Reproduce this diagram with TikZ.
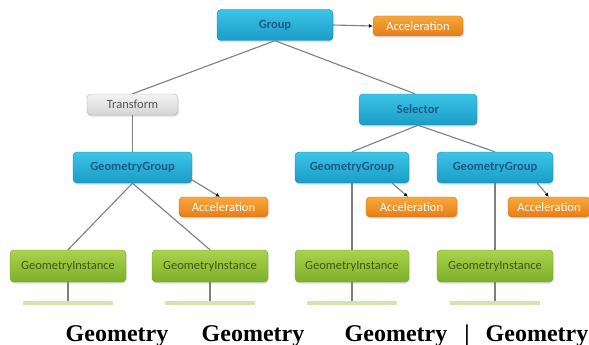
\documentclass[tikz,border=0pt]{standalone}
\usepackage{fontspec}
\setmainfont{Liberation Serif}
\newfontfamily\boxfont{Carlito}
\usetikzlibrary{shadows,arrows.meta,calc}
\definecolor{blueT}{HTML}{3CC4E8}
\definecolor{blueB}{HTML}{1A9CC6}
\definecolor{blueD}{HTML}{1789AE}
\definecolor{blueTxt}{HTML}{1F5A86}
\definecolor{orT}{HTML}{F8A83A}
\definecolor{orB}{HTML}{E57E18}
\definecolor{orD}{HTML}{D07014}
\definecolor{grT}{HTML}{AAD24E}
\definecolor{grB}{HTML}{7DB02A}
\definecolor{grD}{HTML}{6E9C24}
\definecolor{grTxt}{HTML}{3E5A14}
\definecolor{gyT}{HTML}{F4F4F4}
\definecolor{gyB}{HTML}{D4D4D4}
\definecolor{gyD}{HTML}{ABABAB}
\definecolor{gyTxt}{HTML}{555555}
\definecolor{lineGray}{HTML}{7F7F7F}
\definecolor{stripGreen}{HTML}{D3E4AE}
\tikzset{
  box/.style={rounded corners=4pt, inner sep=0pt,
    font=\boxfont\fontsize{12.5}{14}\selectfont,
    drop shadow={opacity=0.25, shadow xshift=0.6pt, shadow yshift=-1.6pt}},
  bluebox/.style={box, top color=blueT, bottom color=blueB, draw=blueD,
    text=blueTxt, font=\boxfont\bfseries\fontsize{12.5}{14}\selectfont,
    minimum width=116pt, minimum height=31pt},
  accbox/.style={box, top color=orT, bottom color=orB, draw=orD, text=white,
    minimum width=89pt, minimum height=20pt},
  instbox/.style={box, top color=grT, bottom color=grB, draw=grD, text=grTxt,
    minimum width=116pt, minimum height=32pt},
  graybox/.style={box, top color=gyT, bottom color=gyB, draw=gyD, text=gyTxt,
    minimum width=91pt, minimum height=21pt},
  strip/.style={fill=stripGreen, draw=none, inner sep=0pt,
    minimum width=90pt, minimum height=4pt},
  conn/.style={draw=lineGray, line width=1.1pt},
  accarrow/.style={conn, -{Latex[length=4pt,width=4pt,fill=black,color=black]}},
  geomlabel/.style={font=\bfseries\fontsize{24}{24}\selectfont, anchor=base, inner sep=0pt}
}
\begin{document}
\begin{tikzpicture}[x=1pt,y=-1pt]
\useasboundingbox[fill=white] (0,0) rectangle (589,345);

% nodes
\node[bluebox] (group) at (275,25) {Group};
\node[accbox, minimum width=90pt] (acc0) at (418,26) {Acceleration};
\node[graybox] (transform) at (132.5,104.5) {Transform};
\node[bluebox, minimum width=118pt] (selector) at (418,109.5) {Selector};
\node[bluebox, minimum width=119pt] (gg1) at (132.5,167.5) {GeometryGroup};
\node[bluebox, minimum width=114pt] (gg2) at (352,167.5) {GeometryGroup};
\node[bluebox, minimum width=116pt] (gg3) at (495,167.5) {GeometryGroup};
\node[accbox] (acc1) at (223.5,207) {Acceleration};
\node[accbox, minimum width=91pt] (acc2) at (411.5,207) {Acceleration};
\node[accbox, minimum width=82pt] (acc3) at (549,207) {Acceleration};
\node[instbox] (gi1) at (68,266) {GeometryInstance};
\node[instbox] (gi2) at (210,266) {GeometryInstance};
\node[instbox, minimum width=114pt] (gi3) at (352,266) {GeometryInstance};
\node[instbox] (gi4) at (495,266) {GeometryInstance};
\node[strip] (s1) at (68,303) {};
\node[strip] (s2) at (210,303) {};
\node[strip] (s3) at (352,303) {};
\node[strip] (s4) at (495,303) {};

% connectors
\draw[conn] (group.south) -- (transform.north);
\draw[conn] (group.south) -- ($(selector.north)+(-3,0)$);
\draw[accarrow] (group.east) -- (acc0.west);
\draw[conn] (transform.south) -- (gg1.north);
\draw[conn] (selector.south) -- (gg2.north);
\draw[conn] (selector.south) -- (gg3.north);
\draw[conn] (gg1.south) -- (gi1.north);
\draw[conn] (gg1.south) -- (gi2.north);
\draw[conn] (gg2.south) -- (gi3.north);
\draw[conn] (gg3.south) -- (gi4.north);
\draw[accarrow] ($(gg1.south east)+(-3,-5)$) -- ($(acc1.north west)+(41,0)$);
\draw[accarrow] ($(gg2.south east)+(-17,0)$) -- ($(acc2.north west)+(42,0)$);
\draw[accarrow] ($(gg3.south east)+(-16,0)$) -- ($(acc3.north west)+(41,0)$);
\draw[conn] (gi1.south) -- (s1.north);
\draw[conn] (gi2.south) -- (s2.north);
\draw[conn] (gi3.south) -- (s3.north);
\draw[conn] (gi4.south) -- (s4.north);

% bottom labels
\node[geomlabel] (g1) at (117,341) {Geometry};
\node[geomlabel] (g2) at (253,341) {Geometry};
\node[geomlabel] (g3) at (396,341) {Geometry};
\node[geomlabel] (bar) at (467,341) {|};
\node[geomlabel] (g4) at (537,341) {Geometry};
\end{tikzpicture}
\end{document}
